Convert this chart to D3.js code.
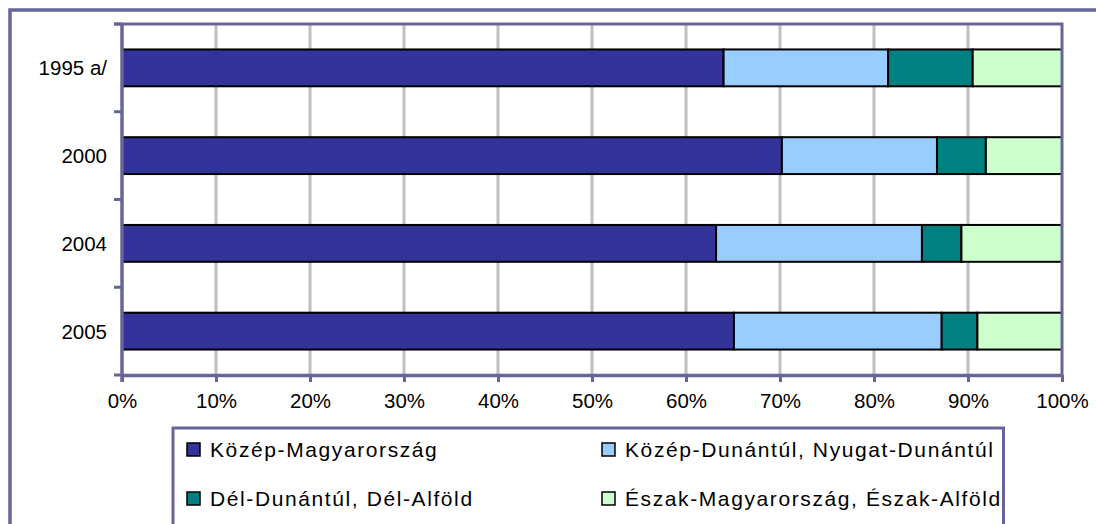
<!DOCTYPE html>
<html>
<head>
<meta charset="utf-8">
<script src="https://cdn.jsdelivr.net/npm/d3@7"></script>
<style>
  body { margin: 0; background: #fff; }
  svg { display: block; font-family: "Liberation Sans", Arial, sans-serif; }
</style>
</head>
<body>
<div id="chart"></div>
<script>
// data (shares in %)
const years = ["1995 a/", "2000", "2004", "2005"];
const regions = [
  "Közép-Magyarország",
  "Közép-Dunántúl, Nyugat-Dunántúl",
  "Dél-Dunántúl, Dél-Alföld",
  "Észak-Magyarország, Észak-Alföld"
];
const kozepMagyar = [64.0, 70.2, 63.2, 65.1];
const kozepDunantul = [17.5, 16.5, 21.9, 22.1];
const delDunantul = [9.0, 5.2, 4.2, 3.8];
const eszakMagyar = [9.5, 8.1, 10.7, 9.0];
const xTicks = [0, 10, 20, 30, 40, 50, 60, 70, 80, 90, 100];
const colors = ["#333399", "#99ccff", "#008080", "#ccffcc"];

const W = 1096, H = 524;
const frame = "#666699";
const margin = { top: 24, right: 34, bottom: 149, left: 122 };
const x0 = margin.left, x1 = W - margin.right;
const y0 = margin.top, y1 = H - margin.bottom;

const rows = years.map((y, i) => ({
  year: y,
  [regions[0]]: kozepMagyar[i],
  [regions[1]]: kozepDunantul[i],
  [regions[2]]: delDunantul[i],
  [regions[3]]: eszakMagyar[i]
}));

const svg = d3.select("#chart").append("svg")
  .attr("width", W)
  .attr("height", H);

// outer chart border (runs off the right and bottom edge)
svg.append("rect")
  .attr("x", 10).attr("y", 10)
  .attr("width", W + 20).attr("height", H + 20)
  .attr("fill", "#fff")
  .attr("stroke", frame)
  .attr("stroke-width", 3.5);

const x = d3.scaleLinear().domain([0, 100]).range([x0, x1]);
const y = d3.scaleBand().domain(years).range([y0, y1])
  .paddingInner(0.58).paddingOuter(0.29);
const color = d3.scaleOrdinal().domain(regions).range(colors);

// gridlines
svg.append("g")
  .selectAll("line")
  .data(xTicks.filter(t => t > 0 && t < 100))
  .join("line")
  .attr("x1", d => x(d)).attr("x2", d => x(d))
  .attr("y1", y0).attr("y2", y1)
  .attr("stroke", "#c0c0c0")
  .attr("stroke-width", 3);

// bars
const stacked = d3.stack().keys(regions)(rows);
svg.append("g")
  .selectAll("g")
  .data(stacked)
  .join("g")
  .attr("fill", d => color(d.key))
  .selectAll("rect")
  .data(d => d)
  .join("rect")
  .attr("x", d => x(d[0]))
  .attr("y", d => y(d.data.year))
  .attr("width", d => x(d[1]) - x(d[0]))
  .attr("height", y.bandwidth())
  .attr("stroke", "#000")
  .attr("stroke-width", 2);

// plot frame: top and right
svg.append("path")
  .attr("d", `M${x0 - 8},${y0}H${x1}V${y1}`)
  .attr("fill", "none")
  .attr("stroke", frame)
  .attr("stroke-width", 3);

// bottom axis
const xAxis = svg.append("g")
  .attr("transform", `translate(0,${y1})`)
  .call(d3.axisBottom(x).tickValues(xTicks).tickSize(7).tickSizeOuter(0)
    .tickPadding(11).tickFormat(d => d + "%"));
xAxis.select(".domain").attr("stroke", frame).attr("stroke-width", 3.5);
xAxis.selectAll(".tick line").attr("stroke", frame).attr("stroke-width", 3);
xAxis.selectAll("text")
  .attr("fill", "#000")
  .style("font-size", "20.5px");

// left axis, ticks sit between categories
const yAxis = svg.append("g")
  .attr("transform", `translate(${x0},0)`);
yAxis.append("line")
  .attr("x1", 0).attr("x2", 0)
  .attr("y1", y0).attr("y2", y1 + 7)
  .attr("stroke", frame).attr("stroke-width", 3.5);
const step = y.step();
yAxis.selectAll(".cat-tick")
  .data(d3.range(years.length + 1))
  .join("line")
  .attr("class", "cat-tick")
  .attr("x1", -8).attr("x2", 0)
  .attr("y1", i => y0 + i * step).attr("y2", i => y0 + i * step)
  .attr("stroke", frame).attr("stroke-width", 3);
yAxis.selectAll(".cat-label")
  .data(years)
  .join("text")
  .attr("class", "cat-label")
  .attr("x", -15)
  .attr("y", d => y(d) + y.bandwidth() / 2)
  .attr("dy", "0.36em")
  .attr("text-anchor", "end")
  .style("font-size", "20.5px")
  .text(d => d);

// legend box
const legend = svg.append("g");
legend.append("rect")
  .attr("x", 173).attr("y", 428)
  .attr("width", 1003.5 - 173).attr("height", 120)
  .attr("fill", "#fff")
  .attr("stroke", frame)
  .attr("stroke-width", 3);

const legendPos = [[187, 443], [602, 443], [187, 492], [602, 492]];
regions.forEach((r, i) => {
  const [lx, ly] = legendPos[i];
  const item = legend.append("g").attr("transform", `translate(${lx},${ly})`);
  item.append("rect")
    .attr("width", 13).attr("height", 13)
    .attr("fill", color(r))
    .attr("stroke", "#000")
    .attr("stroke-width", 1.5);
  item.append("text")
    .attr("x", 23)
    .attr("y", 14)
    .style("font-size", "21px")
    .style("letter-spacing", "1.6px")
    .text(r);
});
</script>
</body>
</html>
